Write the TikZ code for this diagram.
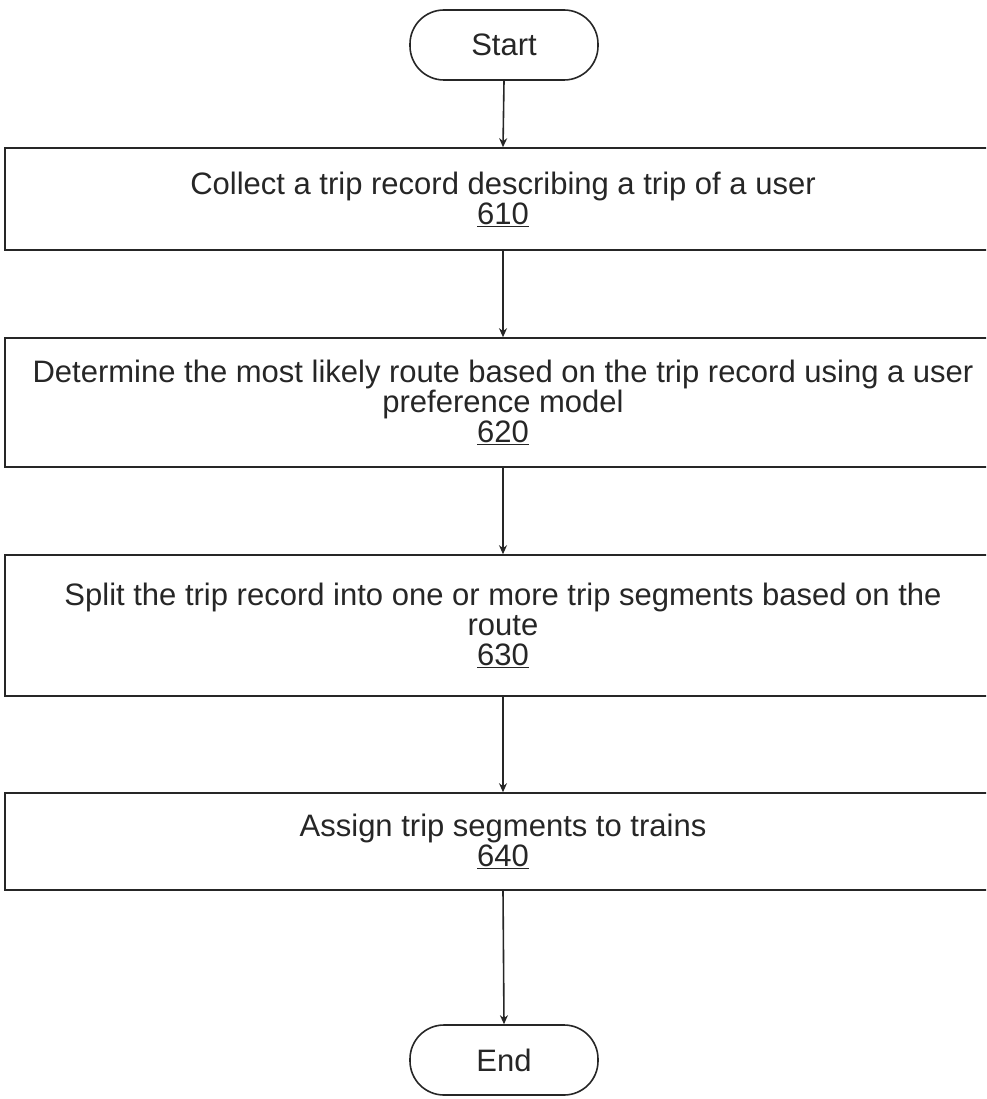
\documentclass[tikz,border=0pt]{standalone}
\usepackage{fontspec}
\setmainfont{Liberation Sans}
\usetikzlibrary{arrows.meta}
\begin{document}
\begin{tikzpicture}[x=1pt,y=-1pt,
  every node/.style={font=\fontsize{31}{30}\selectfont, text=black!85},
  stepbox/.style={draw=black!85, line width=1.6pt, rectangle, minimum width=996pt, align=center, inner sep=0pt},
  term/.style={draw=black!85, line width=1.6pt, rounded corners=34pt, minimum width=188pt, minimum height=70pt, inner sep=0pt},
  flow/.style={draw=black!85, line width=1.6pt, -{Stealth[length=9pt,width=8pt]}}]
  \clip (0,0) rectangle (986,1099);
  \useasboundingbox (0,0) rectangle (986,1099);
  % terminals
  \node[term] (start) at (504,45) {Start};
  \node[term] (stop)  at (504,1060) {End};
  % process steps
  \node[stepbox, minimum height=102pt] (s610) at (503,199)
    {Collect a trip record describing a trip of a user\\\underline{610}};
  \node[stepbox, minimum height=129pt] (s620) at (503,402.5)
    {Determine the most likely route based on the trip record using a user\\preference model\\\underline{620}};
  \node[stepbox, minimum height=141pt] (s630) at (503,625.5)
    {Split the trip record into one or more trip segments based on the\\route\\\underline{630}};
  \node[stepbox, minimum height=97pt] (s640) at (503,841.5)
    {Assign trip segments to trains\\\underline{640}};
  % connectors
  \draw[flow] (start.south) -- (s610.north);
  \draw[flow] (s610.south) -- (s620.north);
  \draw[flow] (s620.south) -- (s630.north);
  \draw[flow] (s630.south) -- (s640.north);
  \draw[flow] (s640.south) -- (stop.north);
\end{tikzpicture}
\end{document}
